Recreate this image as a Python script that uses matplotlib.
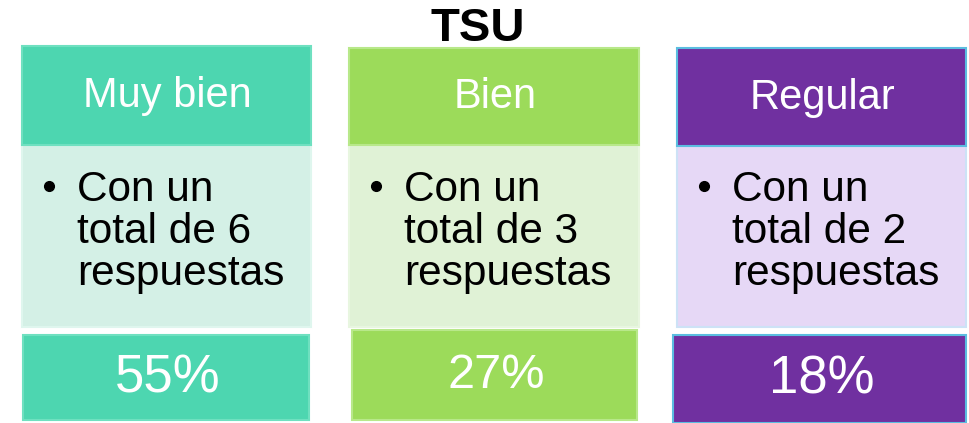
import matplotlib
matplotlib.use('Agg')
import matplotlib.pyplot as plt
from matplotlib.patches import Rectangle

plt.rcParams['font.family'] = ['Liberation Sans', 'DejaVu Sans']

# data
title = 'TSU'
categories = ['Muy bien', 'Bien', 'Regular']
counts = [6, 3, 2]
percents = [55, 27, 18]

# colours per card: header / body / percent box
head_colors = ['#4dd6b0', '#9cdb5a', '#7030a0']
body_colors = ['#d4f0e6', '#e0f2d6', '#e6d8f6']
edge_colors = ['#6fe0c0', '#b8e88a', '#5bbde0']
body_edges = ['#dff6ee', '#e8f6e0', '#cde2f6']

# layout in pixels (x0, x1)
head_x = [(22, 311), (349, 639), (677, 966)]
head_y = [(46, 145), (48, 145), (48, 146)]
body_y = [(145, 327), (145, 327), (146, 327)]
pct_x = [(23, 309), (352, 637), (673, 966)]
pct_y = [(335, 420), (330, 420), (335, 423)]
pct_size = [38, 35, 38]

fig = plt.figure(figsize=(9.69, 4.23), dpi=100)
ax = fig.add_axes([0, 0, 1, 1])
ax.set_xlim(0, 969)
ax.set_ylim(423, 0)
ax.axis('off')

ax.text(478, 29, title, ha='center', va='center', fontsize=34,
        fontweight='bold', color='black')

for i, cat in enumerate(categories):
    x0, x1 = head_x[i]
    # body
    y0, y1 = body_y[i]
    ax.add_patch(Rectangle((x0, y0), x1 - x0, y1 - y0, facecolor=body_colors[i],
                           edgecolor=body_edges[i], lw=1.5))
    # header
    y0, y1 = head_y[i]
    ax.add_patch(Rectangle((x0, y0), x1 - x0, y1 - y0, facecolor=head_colors[i],
                           edgecolor=edge_colors[i], lw=1.5))
    ax.text((x0 + x1) / 2 + 1, (y0 + y1) / 2 + 1, cat, ha='center', va='center',
            fontsize=30, color='white')

    # bullet text
    lines = ['Con un', 'total de %d' % counts[i], 'respuestas']
    ax.plot([x0 + 27], [186], 'o', ms=7, color='black')
    for j, ln in enumerate(lines):
        ax.text(x0 + 55, 201 + j * 42, ln, ha='left', va='baseline',
                fontsize=30.5, color='black')

    # percent box
    px0, px1 = pct_x[i]
    py0, py1 = pct_y[i]
    ax.add_patch(Rectangle((px0, py0), px1 - px0, py1 - py0, facecolor=head_colors[i],
                           edgecolor=edge_colors[i], lw=1.5))
    ax.text((px0 + px1) / 2 + 2, (py0 + py1) / 2 + 1, '%d%%' % percents[i],
            ha='center', va='center', fontsize=pct_size[i], color='white')

fig.savefig('out.png', dpi=100)
